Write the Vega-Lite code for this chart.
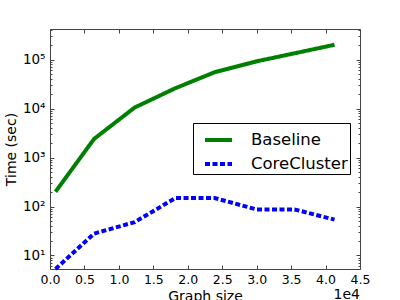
{
  "$schema": "https://vega.github.io/schema/vega-lite/v6.json",
  "width": 310,
  "height": 240,
  "autosize": {"type": "none"},
  "padding": {"left": 50, "top": 29, "right": 40, "bottom": 31},
  "background": "white",
  "config": {
    "font": "DejaVu Sans",
    "view": {"stroke": "#444", "strokeWidth": 1},
    "axis": {"domain": false, "grid": false, "labelFlush": false, "labelOverlap": false, "tickColor": "#444", "labelFont": "DejaVu Sans", "titleFont": "DejaVu Sans", "labelFontSize": 12.5, "titleFontSize": 14, "labelColor": "black", "titleColor": "black", "titleFontWeight": "normal"},
    "legend": {"orient": "none", "legendX": 143, "legendY": 94, "strokeColor": "black", "fillColor": "white", "padding": 1.5, "symbolType": "stroke", "symbolSize": 729, "symbolStrokeWidth": 4, "symbolOffset": 8.5, "labelOffset": 17, "labelFontSize": 16.5, "labelFont": "DejaVu Sans", "labelColor": "black", "rowPadding": -3, "cornerRadius": 0}
  },
  "data": {"values": [
    {"size": 800, "time": 200, "series": "Baseline"},
    {"size": 6400, "time": 2400, "series": "Baseline"},
    {"size": 12300, "time": 10500, "series": "Baseline"},
    {"size": 18200, "time": 26000, "series": "Baseline"},
    {"size": 23900, "time": 55000, "series": "Baseline"},
    {"size": 30000, "time": 92000, "series": "Baseline"},
    {"size": 35500, "time": 134000, "series": "Baseline"},
    {"size": 41300, "time": 200000, "series": "Baseline"},
    {"size": 800, "time": 5.3, "series": "CoreCluster"},
    {"size": 6400, "time": 28, "series": "CoreCluster"},
    {"size": 12300, "time": 48, "series": "CoreCluster"},
    {"size": 18200, "time": 149, "series": "CoreCluster"},
    {"size": 23900, "time": 149, "series": "CoreCluster"},
    {"size": 30000, "time": 87, "series": "CoreCluster"},
    {"size": 35500, "time": 87, "series": "CoreCluster"},
    {"size": 41300, "time": 54, "series": "CoreCluster"}
  ]},
  "resolve": {"axis": {"x": "independent", "y": "independent"}},
  "layer": [
    {
      "mark": {"type": "line", "strokeWidth": 4},
      "encoding": {
        "x": {"field": "size", "type": "quantitative", "scale": {"domain": [0, 45000], "nice": false, "zero": false},
          "axis": {"orient": "bottom", "values": [0, 5000, 10000, 15000, 20000, 25000, 30000, 35000, 40000, 45000], "labelExpr": "format(datum.value/10000, '.1f')", "tickSize": -4, "labelPadding": 8, "title": "Graph size", "titleX": 155, "titleY": 27, "titleBaseline": "middle", "titleAlign": "center"}},
        "y": {"field": "time", "type": "quantitative", "scale": {"type": "log", "domain": [5.3, 420000], "nice": false},
          "axis": {"orient": "left", "values": [6,7,8,9,10,20,30,40,50,60,70,80,90,100,200,300,400,500,600,700,800,900,1000,2000,3000,4000,5000,6000,7000,8000,9000,10000,20000,30000,40000,50000,60000,70000,80000,90000,100000,200000,300000,400000],
            "labelExpr": "datum.value==10?'10¹':datum.value==100?'10²':datum.value==1000?'10³':datum.value==10000?'10⁴':datum.value==100000?'10⁵':''",
            "labelFontSize": 13.5,
            "tickSize": {"condition": {"test": "datum.value==10||datum.value==100||datum.value==1000||datum.value==10000||datum.value==100000", "value": -4}, "value": -2},
            "labelPadding": 9, "title": "Time (sec)", "titleX": -39, "titleY": 120, "titleAngle": -90, "titleAlign": "center", "titleBaseline": "middle"}},
        "color": {"field": "series", "type": "nominal", "scale": {"domain": ["Baseline", "CoreCluster"], "range": ["#008000", "#0000ff"]}, "legend": {"title": null}},
        "strokeDash": {"field": "series", "type": "nominal", "scale": {"domain": ["Baseline", "CoreCluster"], "range": [[1, 0], [5, 2.5]]}, "legend": {"title": null}}
      }
    },
    {
      "data": {"values": [{"label": "1e4", "size": 45000, "time": 5.3}]},
      "mark": {"type": "text", "align": "right", "baseline": "middle", "dy": 26, "fontSize": 14, "font": "DejaVu Sans", "color": "black"},
      "encoding": {
        "text": {"field": "label"},
        "x": {"field": "size", "type": "quantitative", "axis": {"orient": "top", "values": [0, 5000, 10000, 15000, 20000, 25000, 30000, 35000, 40000, 45000], "labels": false, "tickSize": -4, "title": null}},
        "y": {"field": "time", "type": "quantitative", "axis": {"orient": "right", "values": [6,7,8,9,10,20,30,40,50,60,70,80,90,100,200,300,400,500,600,700,800,900,1000,2000,3000,4000,5000,6000,7000,8000,9000,10000,20000,30000,40000,50000,60000,70000,80000,90000,100000,200000,300000,400000], "labels": false,
          "tickSize": {"condition": {"test": "datum.value==10||datum.value==100||datum.value==1000||datum.value==10000||datum.value==100000", "value": -4}, "value": -2}, "title": null}}
      }
    }
  ]
}
